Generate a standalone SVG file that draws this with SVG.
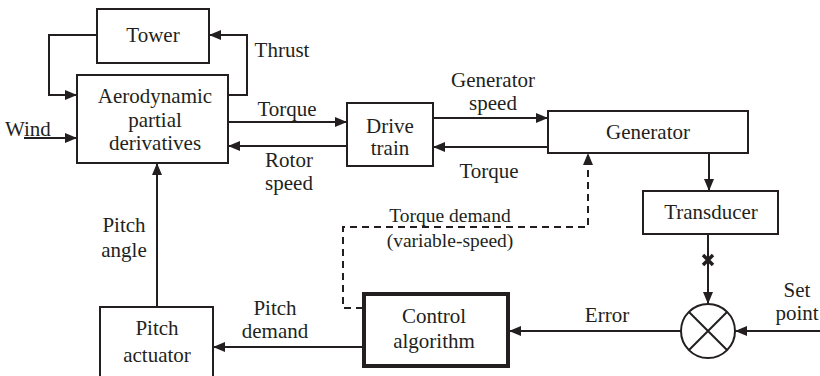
<svg xmlns="http://www.w3.org/2000/svg" width="820" height="376" viewBox="0 0 820 376">
<defs>
<marker id="ah" viewBox="0 0 12 10" refX="12" refY="5" markerWidth="12" markerHeight="10" markerUnits="userSpaceOnUse" orient="auto">
<path d="M0,0 L12,5 L0,10 Z" fill="#231f20"/>
</marker>
</defs>
<style>
.box{fill:#fff;stroke:#231f20;stroke-width:2}
.thick{fill:#fff;stroke:#231f20;stroke-width:4}
.ln{fill:none;stroke:#231f20;stroke-width:2}
.dash{fill:none;stroke:#231f20;stroke-width:2;stroke-dasharray:7,5}
text{font-family:"Liberation Serif","Times New Roman",serif;font-size:21px;fill:#231f20}
.c{text-anchor:middle}
.s{font-size:19.5px}
</style>
<rect width="820" height="376" fill="#fff"/>
<g id="connectors">
<path class="ln" d="M97,35 H49 V95 H77" marker-end="url(#ah)"/>
<path class="ln" d="M228,95 H247 V35 H209" marker-end="url(#ah)"/>
<path class="ln" d="M24,138 H77" marker-end="url(#ah)"/>
<path class="ln" d="M228,122 H347" marker-end="url(#ah)"/>
<path class="ln" d="M347,146 H228" marker-end="url(#ah)"/>
<path class="ln" d="M433,118 H548" marker-end="url(#ah)"/>
<path class="ln" d="M548,147 H433" marker-end="url(#ah)"/>
<path class="ln" d="M709,153 V191" marker-end="url(#ah)"/>
<path class="ln" d="M708,234 V304" marker-end="url(#ah)"/>
<path d="M703,255 L713,265 M713,255 L703,265" stroke="#231f20" stroke-width="3.5"/>
<path class="ln" d="M820,331 H735" marker-end="url(#ah)"/>
<path class="ln" d="M681,331 H509" marker-end="url(#ah)"/>
<path class="ln" d="M363,347 H213" marker-end="url(#ah)"/>
<path class="ln" d="M157,307 V163" marker-end="url(#ah)"/>
<path class="dash" d="M363,308 H343 V227 H588 V153" marker-end="url(#ah)"/>
<text class="c" x="282" y="57">Thrust</text>
<text x="5" y="136">Wind</text>
<text class="c" x="287" y="116">Torque</text>
<text class="c" x="289" y="167">Rotor</text>
<text class="c" x="289" y="190">speed</text>
<text class="c" x="493" y="87">Generator</text>
<text class="c" x="493" y="110">speed</text>
<text class="c" x="489" y="178">Torque</text>
<text class="c s" x="450" y="222">Torque demand</text>
<text class="c s" x="450" y="247">(variable-speed)</text>
<text class="c" x="124" y="232">Pitch</text>
<text class="c" x="124" y="257">angle</text>
<text class="c" x="275" y="315">Pitch</text>
<text class="c" x="275" y="338">demand</text>
<text class="c" x="607" y="322">Error</text>
<text class="c" x="797" y="297">Set</text>
<text class="c" x="797" y="320">point</text>
</g>
<g id="tower"><rect class="box" x="97" y="9" width="112" height="54"/><text class="c" x="153" y="42">Tower</text></g>
<g id="aero"><rect class="box" x="77" y="75" width="151" height="88"/><text class="c" x="155" y="103">Aerodynamic</text><text class="c" x="155" y="127">partial</text><text class="c" x="155" y="150">derivatives</text></g>
<g id="drivetrain"><rect class="box" x="347" y="103" width="86" height="63"/><text class="c" x="390" y="133">Drive</text><text class="c" x="390" y="155">train</text></g>
<g id="generator"><rect class="box" x="548" y="111" width="200" height="42"/><text class="c" x="648" y="139">Generator</text></g>
<g id="transducer"><rect class="box" x="643" y="191" width="135" height="43"/><text class="c" x="711" y="219">Transducer</text></g>
<g id="sum"><circle class="box" cx="708" cy="331" r="27"/><path class="ln" d="M689,312 L727,350 M727,312 L689,350"/></g>
<g id="control"><rect class="thick" x="364" y="294" width="144" height="72"/><text class="c" x="434" y="323">Control</text><text class="c" x="434" y="348">algorithm</text></g>
<g id="actuator"><rect class="box" x="100" y="307" width="113" height="80"/><text class="c" x="157" y="335">Pitch</text><text class="c" x="157" y="362">actuator</text></g>
</svg>
